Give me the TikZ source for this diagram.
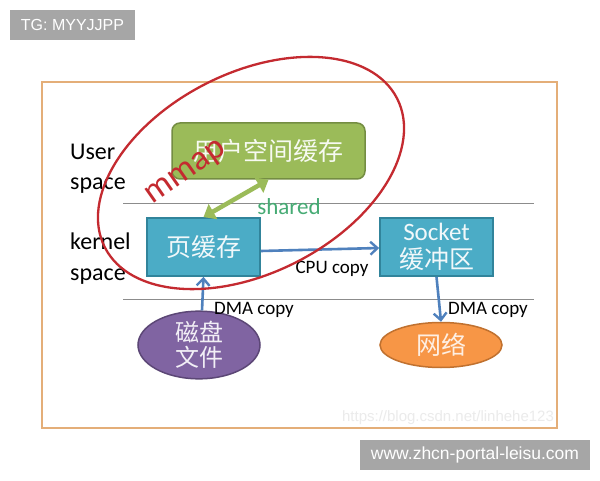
\documentclass[tikz,border=0pt]{standalone}
\usepackage{fontspec}
\setmainfont{Carlito}
\newfontfamily\cjk{Noto Sans CJK SC}
\newfontfamily\arial{Liberation Sans}
\usetikzlibrary{arrows.meta,shapes.geometric}
\definecolor{greenfill}{HTML}{9BBB59}
\definecolor{greendraw}{HTML}{748D42}
\definecolor{bluefill}{HTML}{4BACC6}
\definecolor{bluedraw}{HTML}{31849B}
\definecolor{purplefill}{HTML}{8064A2}
\definecolor{purpledraw}{HTML}{5C4776}
\definecolor{orangefill}{HTML}{F79646}
\definecolor{orangedraw}{HTML}{C0712F}
\definecolor{arrowblue}{HTML}{4F81BD}
\definecolor{frameorange}{HTML}{E4AE78}
\definecolor{mmapred}{HTML}{C42A30}
\definecolor{sharedgreen}{HTML}{46AB74}
\definecolor{tagbg}{HTML}{A6A6A6}
\tikzset{
  lbl/.style={anchor=base west, inner sep=0pt, font=\fontsize{24}{28}\selectfont},
  cpy/.style={inner sep=0pt, font=\fontsize{19}{22}\selectfont},
  greenbox/.style={draw=greendraw, fill=greenfill, line width=1.5pt, rounded corners=8pt,
    minimum width=193, minimum height=56, inner sep=0pt, text=white!92!greenfill,
    font=\cjk\fontsize{25}{28}\selectfont},
  bluebox/.style={draw=bluedraw, fill=bluefill, line width=1.8pt,
    minimum width=113, minimum height=58, inner sep=0pt, text=white!92!bluefill, align=center},
  blob/.style={ellipse, line width=1.5pt, minimum width=122, inner sep=0pt, align=center},
  bluearrow/.style={draw=arrowblue, line width=2.6pt, -{Straight Barb[length=7pt,width=13pt,line width=2.4pt]}},
  greenarrow/.style={draw=greenfill, line width=4.5pt, {Triangle[length=11pt,width=17pt]}-{Triangle[length=11pt,width=17pt]}},
  sepline/.style={draw=black!45, line width=0.8pt},
  tag/.style={fill=tagbg, text=white, inner sep=0pt}
}
\begin{document}
\begin{tikzpicture}[x=1pt,y=1pt]
\useasboundingbox (0,0) rectangle (600,480);
\fill[white] (0,0) rectangle (600,480);
% watermark tags
\node[tag, minimum width=125, minimum height=30, font=\arial\fontsize{16}{18}\selectfont] (tg) at (72.5,455) {TG: MYYJJPP};
\node[tag, minimum width=230, minimum height=30, font=\arial\fontsize{17.5}{20}\selectfont] (www) at (475,25) {www.zhcn-portal-leisu.com};
% frame
\draw[frameorange, line width=2pt] (42,52) rectangle (557,398);
\node[text=black!8, font=\arial\fontsize{15}{17}\selectfont, inner sep=0pt] (csdn) at (448,62) {https://blog.csdn.net/linhehe123};
% separator lines
\coordinate (l1a) at (123,277); \coordinate (l1b) at (534,277);
\coordinate (l2a) at (123,181); \coordinate (l2b) at (534,181);
\draw[sepline] (l1a) -- (l1b);
\draw[sepline] (l2a) -- (l2b);
% side labels
\node[lbl] (u1) at (70,320) {User};
\node[lbl] (u2) at (70,290) {space};
\node[lbl] (k1) at (70,230) {kernel};
\node[lbl] (k2) at (70,200) {space};
% boxes
\node[greenbox] (user) at (268.5,329) {用户空间缓存};
\node[bluebox, font=\cjk\fontsize{25}{28}\selectfont] (page) at (203.5,233) {页缓存};
\node[bluebox, font=\fontsize{25}{29}\selectfont] (sock) at (436.5,233) {Socket\\[-1pt]{\cjk 缓冲区}};
\node[blob, draw=purpledraw, fill=purplefill, minimum height=56, text=white!90!purplefill,
  font=\cjk\fontsize{24}{25.5}\selectfont] (disk) at (199,135) {磁盘\\文件};
\node[blob, draw=orangedraw, fill=orangefill, minimum height=45, text=white!85!orangefill,
  font=\cjk\fontsize{25}{28}\selectfont] (net) at (441,135) {网络};
% arrows
\draw[greenarrow] (page.north) -- (user.south);
\draw[bluearrow] ([yshift=-4]page.east) -- ([yshift=-1]sock.west);
\draw[bluearrow] ([xshift=3]disk.north) -- (page.south);
\draw[bluearrow] (sock.south) -- (net.north);
% labels on arrows
\node[cpy, anchor=base] (cpu) at (332,206) {CPU copy};
\node[cpy, anchor=base west] (dma1) at (214,165) {DMA copy};
\node[cpy, anchor=base west] (dma2) at (448,165) {DMA copy};
\node[inner sep=0pt, anchor=base, text=sharedgreen, font=\fontsize{23}{26}\selectfont] (shared) at (289,265) {shared};
% mmap ellipse
\draw[mmapred, line width=2.3pt, rotate around={27:(251,307)}] (251,307) ellipse [x radius=164, y radius=100];
\node[inner sep=0pt, anchor=base, rotate=35, text=mmapred, font=\fontsize{35}{38}\selectfont] (mmap) at (190,302) {mmap};
\end{tikzpicture}
\end{document}
